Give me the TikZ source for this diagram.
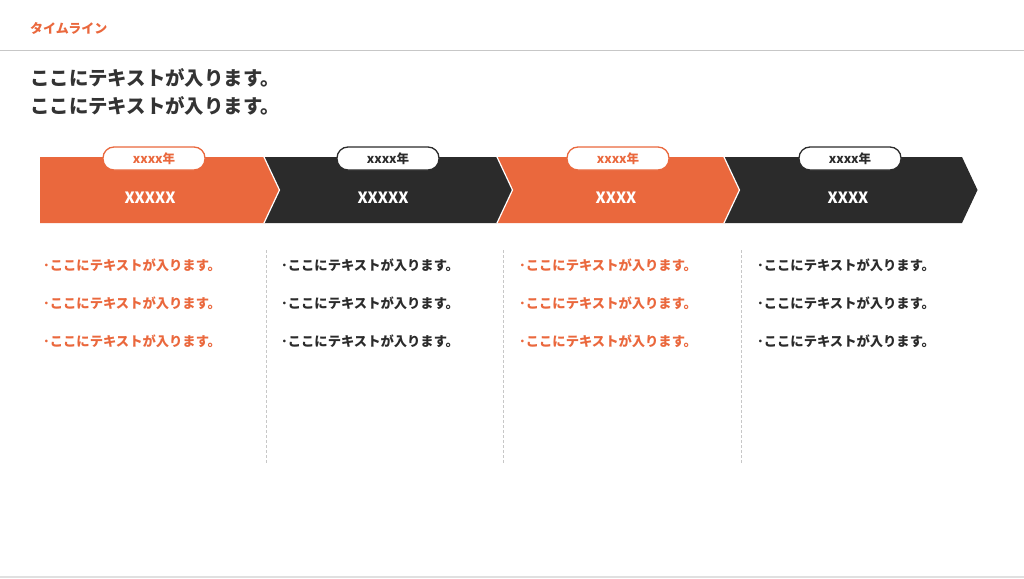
\documentclass[tikz,border=0pt]{standalone}
\usepackage{fontspec}
\setmainfont{Noto Sans CJK JP}
\usetikzlibrary{positioning}
\definecolor{accent}{HTML}{EA683D}
\definecolor{dark}{HTML}{2B2B2B}
\definecolor{titlegray}{HTML}{333333}

\begin{document}
\begin{tikzpicture}[x=1pt, y=-1pt,
    bar text/.style={text=white, font=\bfseries\fontsize{15.5}{15.5}\selectfont},
    year tag/.style={draw, fill=white, rounded corners=11pt, minimum width=102pt, minimum height=23pt, inner sep=0pt, line width=1.3pt, font=\bfseries\fontsize{12.5}{12.5}\selectfont},
    item/.style={anchor=west, inner sep=0pt, font=\bfseries\fontsize{13.3}{13.3}\selectfont},
    divider/.style={draw=black!22, line width=0.6pt, dash pattern=on 3pt off 2pt}]
    \useasboundingbox (0,0) rectangle (1024,578);

    % header
    \node[anchor=west, inner sep=0pt, text=accent, font=\bfseries\fontsize{13}{13}\selectfont] (head) at (30,28) {タイムライン};
    \draw[black!22, line width=1pt] (0,51) -- (1024,51);
    \draw[black!12, line width=2pt] (0,577) -- (1024,577);
    \node[anchor=west, inner sep=0pt, text=titlegray, font=\bfseries\fontsize{19.4}{19.4}\selectfont] (title1) at (30,78) {ここにテキストが入ります。};
    \node[anchor=west, inner sep=0pt, text=titlegray, font=\bfseries\fontsize{19.4}{19.4}\selectfont] (title2) at (30,106) {ここにテキストが入ります。};

    % chevrons
    \foreach \i/\L/\R/\col/\txt/\tx/\px in {0/40/264/accent/XXXXX/150/154, 1/264/497/dark/XXXXX/383/388, 2/497/724/accent/XXXX/616/618, 3/724/962/dark/XXXX/848/850} {
        \ifnum\i=0
            \fill[\col] (\L,157) -- (\R,157) -- (\R+15.5,190) -- (\R,223) -- (\L,223) -- cycle;
        \else
            \fill[\col] (\L,157) -- (\R,157) -- (\R+15.5,190) -- (\R,223) -- (\L,223) -- (\L+15.5,190) -- cycle;
            \draw[white, line width=1.2pt] (\L,157) -- (\L+15.5,190) -- (\L,223);
        \fi
        \node[bar text] (seg\i) at (\tx,198) {\txt};
        \node[year tag, draw=\col, text=\col] (year\i) at (\px,158.5) {xxxx年};
    }

    % columns
    \foreach \i/\col in {0/accent, 1/dark, 2/accent, 3/dark} {
        \foreach \j/\y in {1/265, 2/303, 3/341}
            \node[item, text=\col] (item\i-\j) at (43+238*\i,\y) {･ここにテキストが入ります。};
    }
    \foreach \i in {1,2,3}
        \draw[divider] (28.5+237.5*\i,250) -- (28.5+237.5*\i,463);
\end{tikzpicture}
\end{document}
